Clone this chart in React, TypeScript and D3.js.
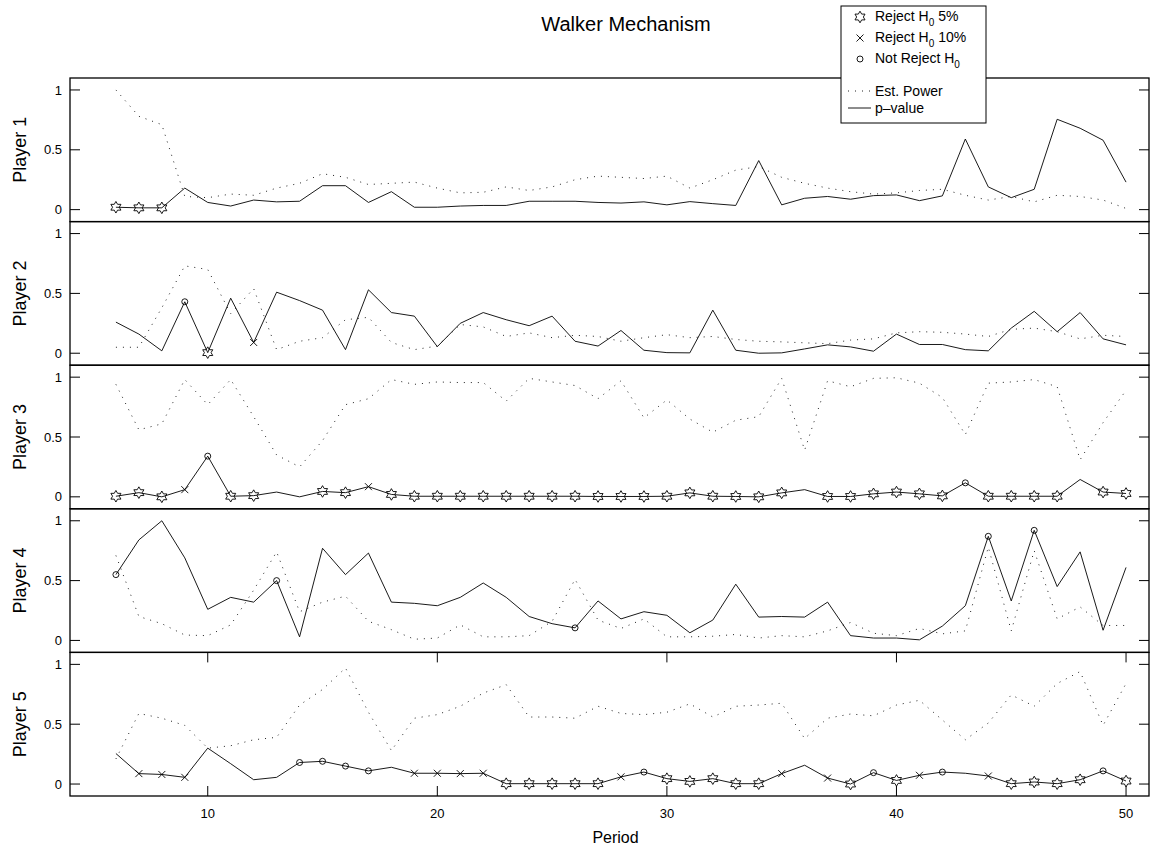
import * as d3 from 'd3';

// periods 6..50
const periods = [
  6, 7, 8, 9, 10, 11, 12, 13, 14, 15, 16, 17, 18, 19, 20, 21, 22, 23, 24, 25, 26, 27, 28,
  29, 30, 31, 32, 33, 34, 35, 36, 37, 38, 39, 40, 41, 42, 43, 44, 45, 46, 47, 48, 49, 50,
];
const xTicks = [10, 20, 30, 40, 50];
const yTicks = [0, 0.5, 1];
const playerNames = ['Player 1', 'Player 2', 'Player 3', 'Player 4', 'Player 5'];

const pvalue1 = [
  0.02, 0.015, 0.015, 0.18, 0.06, 0.03, 0.08, 0.065, 0.07, 0.2,
  0.2, 0.06, 0.15, 0.02, 0.02, 0.03, 0.035, 0.035, 0.07, 0.07,
  0.07, 0.06, 0.055, 0.065, 0.04, 0.067, 0.05, 0.035, 0.41, 0.04,
  0.095, 0.11, 0.087, 0.117, 0.123, 0.075, 0.115, 0.59, 0.19, 0.1,
  0.17, 0.755, 0.68, 0.58, 0.23,
];
const power1 = [
  1.0, 0.78, 0.71, 0.11, 0.1, 0.13, 0.12, 0.18, 0.22, 0.3,
  0.27, 0.21, 0.22, 0.23, 0.18, 0.14, 0.145, 0.19, 0.16, 0.19,
  0.25, 0.28, 0.27, 0.26, 0.28, 0.18, 0.25, 0.33, 0.36, 0.27,
  0.22, 0.18, 0.15, 0.13, 0.14, 0.16, 0.17, 0.12, 0.08, 0.11,
  0.065, 0.12, 0.11, 0.08, 0.01,
];
const stars1 = [6, 7, 8];
const crosses1: number[] = [];
const circles1: number[] = [];

const pvalue2 = [
  0.26, 0.16, 0.02, 0.43, 0.005, 0.46, 0.09, 0.51, 0.44, 0.36,
  0.03, 0.53, 0.34, 0.31, 0.055, 0.25, 0.34, 0.28, 0.23, 0.31,
  0.1, 0.06, 0.19, 0.025, 0.005, 0.003, 0.36, 0.025, 0.0, 0.003,
  0.036, 0.07, 0.053, 0.017, 0.16, 0.073, 0.073, 0.03, 0.02, 0.21,
  0.35, 0.18, 0.34, 0.12, 0.07,
];
const power2 = [
  0.05, 0.05, 0.38, 0.73, 0.7, 0.33, 0.54, 0.03, 0.1, 0.13,
  0.28, 0.3, 0.09, 0.03, 0.06, 0.24, 0.22, 0.14, 0.17, 0.13,
  0.15, 0.14, 0.1, 0.13, 0.155, 0.13, 0.14, 0.115, 0.1, 0.095,
  0.087, 0.08, 0.11, 0.12, 0.17, 0.18, 0.175, 0.16, 0.14, 0.2,
  0.21, 0.18, 0.12, 0.15, 0.14,
];
const stars2 = [10];
const crosses2 = [12];
const circles2 = [9];

const pvalue3 = [
  0.005, 0.035, 0.0, 0.06, 0.34, 0.005, 0.01, 0.04, 0.0, 0.045,
  0.035, 0.085, 0.02, 0.005, 0.005, 0.005, 0.005, 0.005, 0.005, 0.005,
  0.005, 0.003, 0.003, 0.003, 0.005, 0.033, 0.005, 0.003, 0.0, 0.033,
  0.06, 0.003, 0.003, 0.025, 0.04, 0.025, 0.008, 0.117, 0.005, 0.005,
  0.005, 0.005, 0.145, 0.04, 0.028,
];
const power3 = [
  0.94, 0.56, 0.61, 0.98, 0.77, 0.98, 0.67, 0.35, 0.25, 0.47,
  0.77, 0.82, 0.98, 0.94, 0.96, 0.955, 0.955, 0.8, 0.99, 0.96,
  0.93, 0.82, 0.97, 0.66, 0.81, 0.65, 0.54, 0.64, 0.67, 0.99,
  0.39, 0.97, 0.92, 0.99, 0.995, 0.95, 0.83, 0.52, 0.95, 0.96,
  0.98, 0.92, 0.31, 0.62, 0.89,
];
const stars3 = [
  6, 7, 8, 11, 12, 15, 16, 18, 19, 20, 21, 22, 23, 24, 25, 26, 27, 28, 29, 30, 31, 32, 33,
  34, 35, 37, 38, 39, 40, 41, 42, 44, 45, 46, 47, 49, 50,
];
const crosses3 = [9, 17];
const circles3 = [10, 43];

const pvalue4 = [
  0.55, 0.84, 1.0, 0.69, 0.26, 0.36, 0.32, 0.5, 0.03, 0.77,
  0.55, 0.73, 0.32, 0.31, 0.29, 0.36, 0.48, 0.36, 0.2, 0.14,
  0.105, 0.33, 0.18, 0.24, 0.21, 0.064, 0.17, 0.47, 0.195, 0.2,
  0.195, 0.32, 0.04, 0.02, 0.02, 0.005, 0.12, 0.29, 0.87, 0.33,
  0.92, 0.45, 0.74, 0.085, 0.61,
];
const power4 = [
  0.71, 0.2, 0.14, 0.045, 0.04, 0.13, 0.42, 0.74, 0.24, 0.32,
  0.37, 0.16, 0.09, 0.01, 0.02, 0.13, 0.03, 0.03, 0.04, 0.16,
  0.51, 0.17, 0.1, 0.18, 0.03, 0.03, 0.035, 0.05, 0.02, 0.04,
  0.03, 0.08, 0.15, 0.06, 0.04, 0.1, 0.055, 0.08, 0.78, 0.08,
  0.75, 0.18, 0.28, 0.125, 0.125,
];
const stars4: number[] = [];
const crosses4: number[] = [];
const circles4 = [6, 13, 26, 44, 46];

const pvalue5 = [
  0.255, 0.087, 0.08, 0.056, 0.3, 0.17, 0.036, 0.056, 0.18, 0.19,
  0.15, 0.11, 0.14, 0.09, 0.09, 0.087, 0.09, 0.003, 0.003, 0.003,
  0.003, 0.003, 0.06, 0.1, 0.045, 0.022, 0.045, 0.003, 0.003, 0.087,
  0.157, 0.05, 0.0, 0.095, 0.03, 0.073, 0.1, 0.09, 0.067, 0.003,
  0.017, 0.003, 0.036, 0.11, 0.025,
];
const power5 = [
  0.21, 0.59, 0.55, 0.49, 0.3, 0.32, 0.37, 0.39, 0.66, 0.79,
  0.97, 0.6, 0.28, 0.55, 0.58, 0.65, 0.76, 0.83, 0.56, 0.56,
  0.55, 0.65, 0.59, 0.58, 0.6, 0.67, 0.56, 0.65, 0.66, 0.675,
  0.38, 0.55, 0.585, 0.57, 0.66, 0.7, 0.535, 0.37, 0.51, 0.745,
  0.65, 0.84, 0.94, 0.49, 0.84,
];
const stars5 = [23, 24, 25, 26, 27, 30, 31, 32, 33, 34, 38, 40, 45, 46, 47, 48, 50];
const crosses5 = [7, 8, 9, 19, 20, 21, 22, 28, 35, 37, 41, 44];
const circles5 = [14, 15, 16, 17, 29, 39, 42, 49];

const pvalues = [pvalue1, pvalue2, pvalue3, pvalue4, pvalue5];
const powers = [power1, power2, power3, power4, power5];
const starSets = [stars1, stars2, stars3, stars4, stars5];
const crossSets = [crosses1, crosses2, crosses3, crosses4, crosses5];
const circleSets = [circles1, circles2, circles3, circles4, circles5];

const W = 1156;
const H = 848;
const left = 70;
const right = 1149;
const top = 78;
const bottom = 796;
const panelH = (bottom - top) / 5;
const tickLen = 10;
const font = '"Liberation Sans", Arial, Helvetica, sans-serif';

function hexagram(cx: number, cy: number, R: number) {
  const r = R / Math.sqrt(3);
  const pts = d3.range(12).map((i) => {
    const a = -Math.PI / 2 + (i * Math.PI) / 6;
    const rr = i % 2 === 0 ? R : r;
    return [cx + rr * Math.cos(a), cy + rr * Math.sin(a)].map((v) => v.toFixed(2)).join(',');
  });
  return 'M' + pts.join('L') + 'Z';
}

function Marker({ kind, cx, cy }: { kind: string; cx: number; cy: number }) {
  if (kind === 's') return <path d={hexagram(cx, cy, 5.8)} fill="none" stroke="#000" strokeWidth={0.9} />;
  if (kind === 'o') return <circle cx={cx} cy={cy} r={3} fill="none" stroke="#000" strokeWidth={0.9} />;
  if (kind === 'x')
    return (
      <path
        d={`M${cx - 3.5},${cy - 3.5}L${cx + 3.5},${cy + 3.5}M${cx - 3.5},${cy + 3.5}L${cx + 3.5},${cy - 3.5}`}
        stroke="#000"
        strokeWidth={0.9}
      />
    );
  return null;
}

export default function App() {
  const x = d3.scaleLinear().domain([4, 51]).range([left, right]);

  // legend layout
  const lgX = 841;
  const lgW = 145;
  const mkX = lgX + 19;
  const txX = lgX + 34;

  return (
    <svg
      width={W}
      height={H}
      style={{ display: 'block', position: 'absolute', left: 0, top: 0, background: '#fff' }}
      fontFamily={font}
    >
      <rect x={0} y={0} width={W} height={H} fill="#fff" />
      {playerNames.map((name, i) => {
        const y0 = top + i * panelH;
        const y = d3.scaleLinear().domain([-0.1, 1.1]).range([y0 + panelH, y0]);
        const line = d3
          .line<number>()
          .x((_, j) => x(periods[j]))
          .y((d) => y(d));
        const valueAt = (p: number) => pvalues[i][periods.indexOf(p)];
        return (
          <g key={name}>
            <path d={line(powers[i]) || ''} fill="none" stroke="#222" strokeWidth={1} strokeDasharray="1,6" />
            <path d={line(pvalues[i]) || ''} fill="none" stroke="#000" strokeWidth={0.9} />
            {starSets[i].map((p) => (
              <Marker key={'s' + p} kind="s" cx={x(p)} cy={y(valueAt(p))} />
            ))}
            {crossSets[i].map((p) => (
              <Marker key={'x' + p} kind="x" cx={x(p)} cy={y(valueAt(p))} />
            ))}
            {circleSets[i].map((p) => (
              <Marker key={'o' + p} kind="o" cx={x(p)} cy={y(valueAt(p))} />
            ))}
            <rect x={left} y={y0} width={right - left} height={panelH} fill="none" stroke="#000" strokeWidth={1.3} />
            {yTicks.map((t) => (
              <g key={t}>
                <line x1={left} x2={left + tickLen} y1={y(t)} y2={y(t)} stroke="#000" strokeWidth={1} />
                <line x1={right - tickLen} x2={right} y1={y(t)} y2={y(t)} stroke="#000" strokeWidth={1} />
                <text x={left - 8} y={y(t)} dy="0.35em" textAnchor="end" fontSize={13}>
                  {t}
                </text>
              </g>
            ))}
            <text transform={`translate(26,${y0 + panelH / 2}) rotate(-90)`} textAnchor="middle" fontSize={18}>
              {name}
            </text>
            {i === 4 &&
              xTicks.map((t) => (
                <g key={t}>
                  <line x1={x(t)} x2={x(t)} y1={y0} y2={y0 + tickLen} stroke="#000" strokeWidth={1} />
                  <line x1={x(t)} x2={x(t)} y1={bottom - tickLen} y2={bottom} stroke="#000" strokeWidth={1} />
                  <text x={x(t)} y={bottom + 22} textAnchor="middle" fontSize={13}>
                    {t}
                  </text>
                </g>
              ))}
          </g>
        );
      })}

      <text x={(left + right) / 2 + 6} y={843} textAnchor="middle" fontSize={16}>
        Period
      </text>
      <text x={626} y={31} textAnchor="middle" fontSize={20}>
        Walker Mechanism
      </text>

      {/* legend */}
      <g>
        <rect x={lgX} y={6} width={lgW} height={117} fill="#fff" stroke="#000" strokeWidth={1} />
        <Marker kind="s" cx={mkX} cy={17} />
        <text x={txX} y={21} fontSize={14}>
          Reject H<tspan fontSize={10} dy={5}>0</tspan>
          <tspan dy={-5}> 5%</tspan>
        </text>
        <Marker kind="x" cx={mkX} cy={38} />
        <text x={txX} y={42} fontSize={14}>
          Reject H<tspan fontSize={10} dy={5}>0</tspan>
          <tspan dy={-5}> 10%</tspan>
        </text>
        <Marker kind="o" cx={mkX} cy={59} />
        <text x={txX} y={63} fontSize={14}>
          Not Reject H<tspan fontSize={10} dy={5}>0</tspan>
        </text>
        <line x1={lgX + 7} x2={lgX + 30} y1={91} y2={91} stroke="#222" strokeDasharray="1,6" />
        <text x={txX} y={96} fontSize={14}>
          Est. Power
        </text>
        <line x1={lgX + 7} x2={lgX + 30} y1={108} y2={108} stroke="#000" strokeWidth={0.9} />
        <text x={txX} y={113} fontSize={14}>
          p–value
        </text>
      </g>
    </svg>
  );
}
